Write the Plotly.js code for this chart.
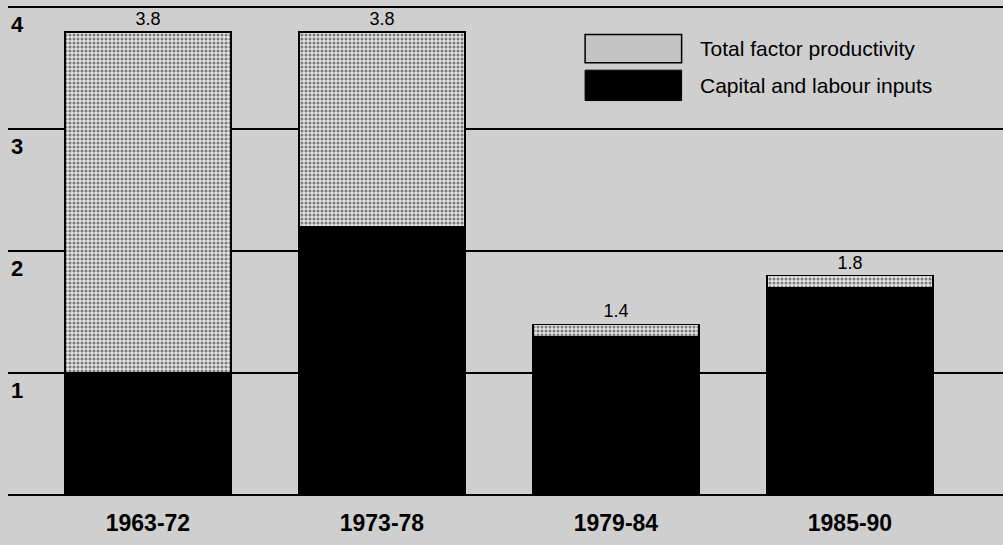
<!DOCTYPE html>
<html>
<head>
<meta charset="utf-8">
<script src="https://cdn.plot.ly/plotly-3.0.1.min.js"></script>
<style>html,body{margin:0;padding:0;background:#cfcfcf;}#chart{width:1003px;height:545px;}</style>
</head>
<body>
<div id="chart"></div>
<script>
var periods = ["1963-72", "1973-78", "1979-84", "1985-90"];
var capitalLabour = [1.0, 2.2, 1.3, 1.7];
var tfp = [2.8, 1.6, 0.1, 0.1];
var totals = [3.8, 3.8, 1.4, 1.8];
var seriesNames = ["Total factor productivity", "Capital and labour inputs"];
var yTicks = [1, 2, 3, 4];

var tfpPattern = {shape: ".", bgcolor: "#e4e4e4", fgcolor: "#7a7a7a", size: 4, solidity: 0.45};
var FONT = "Liberation Sans, Arial, sans-serif";

var traces = [
  {type: "bar", x: periods, y: capitalLabour, name: seriesNames[1],
   marker: {color: "#000000", line: {color: "#000000", width: 1.5}}, width: 0.71,
   hoverinfo: "skip"},
  {type: "bar", x: periods, y: tfp, name: seriesNames[0],
   marker: {color: "#c4c4c4", pattern: tfpPattern, line: {color: "#000000", width: 1.5}}, width: 0.71,
   text: totals.map(function(v){return v.toFixed(1);}), textposition: "outside",
   textfont: {family: FONT, size: 18, color: "#000"},
   cliponaxis: false, hoverinfo: "skip"}
];

var layout = {
  width: 1003, height: 545,
  margin: {l: 8, r: 0, t: 5, b: 50},
  paper_bgcolor: "#cfcfcf", plot_bgcolor: "#cfcfcf",
  barmode: "stack", showlegend: false,
  font: {family: FONT, color: "#000"},
  xaxis: {range: [-0.598, 3.654], showgrid: false, zeroline: false, showline: false,
          ticks: "", ticklabelstandoff: 12,
          tickfont: {size: 23, family: FONT, weight: "bold", color: "#000"},
          fixedrange: true},
  yaxis: {range: [0, 4.02], tickvals: yTicks, ticktext: yTicks.map(String),
          showgrid: true, gridcolor: "#000000", gridwidth: 2,
          zeroline: true, zerolinecolor: "#000000", zerolinewidth: 2.5,
          showline: false, ticks: "", ticklabelposition: "inside", ticklabelshift: 17,
          tickfont: {size: 22, family: FONT, weight: "bold", color: "#000"},
          fixedrange: true},
  shapes: [
    {type: "rect", xref: "paper", yref: "paper", x0: 0.580, x1: 0.677, y0: 0.940, y1: 0.882,
     fillcolor: "#c4c4c4", line: {color: "#000", width: 1.5}},
    {type: "rect", xref: "paper", yref: "paper", x0: 0.580, x1: 0.677, y0: 0.867, y1: 0.805,
     fillcolor: "#000", line: {color: "#000", width: 1}}
  ],
  annotations: [
    {xref: "paper", yref: "paper", x: 0.693, y: 0.911, xanchor: "left", yanchor: "middle",
     text: seriesNames[0], showarrow: false, font: {size: 21}},
    {xref: "paper", yref: "paper", x: 0.693, y: 0.836, xanchor: "left", yanchor: "middle",
     text: seriesNames[1], showarrow: false, font: {size: 21}}
  ]
};

Plotly.newPlot("chart", traces, layout, {displayModeBar: false, staticPlot: true});
</script>
</body>
</html>
